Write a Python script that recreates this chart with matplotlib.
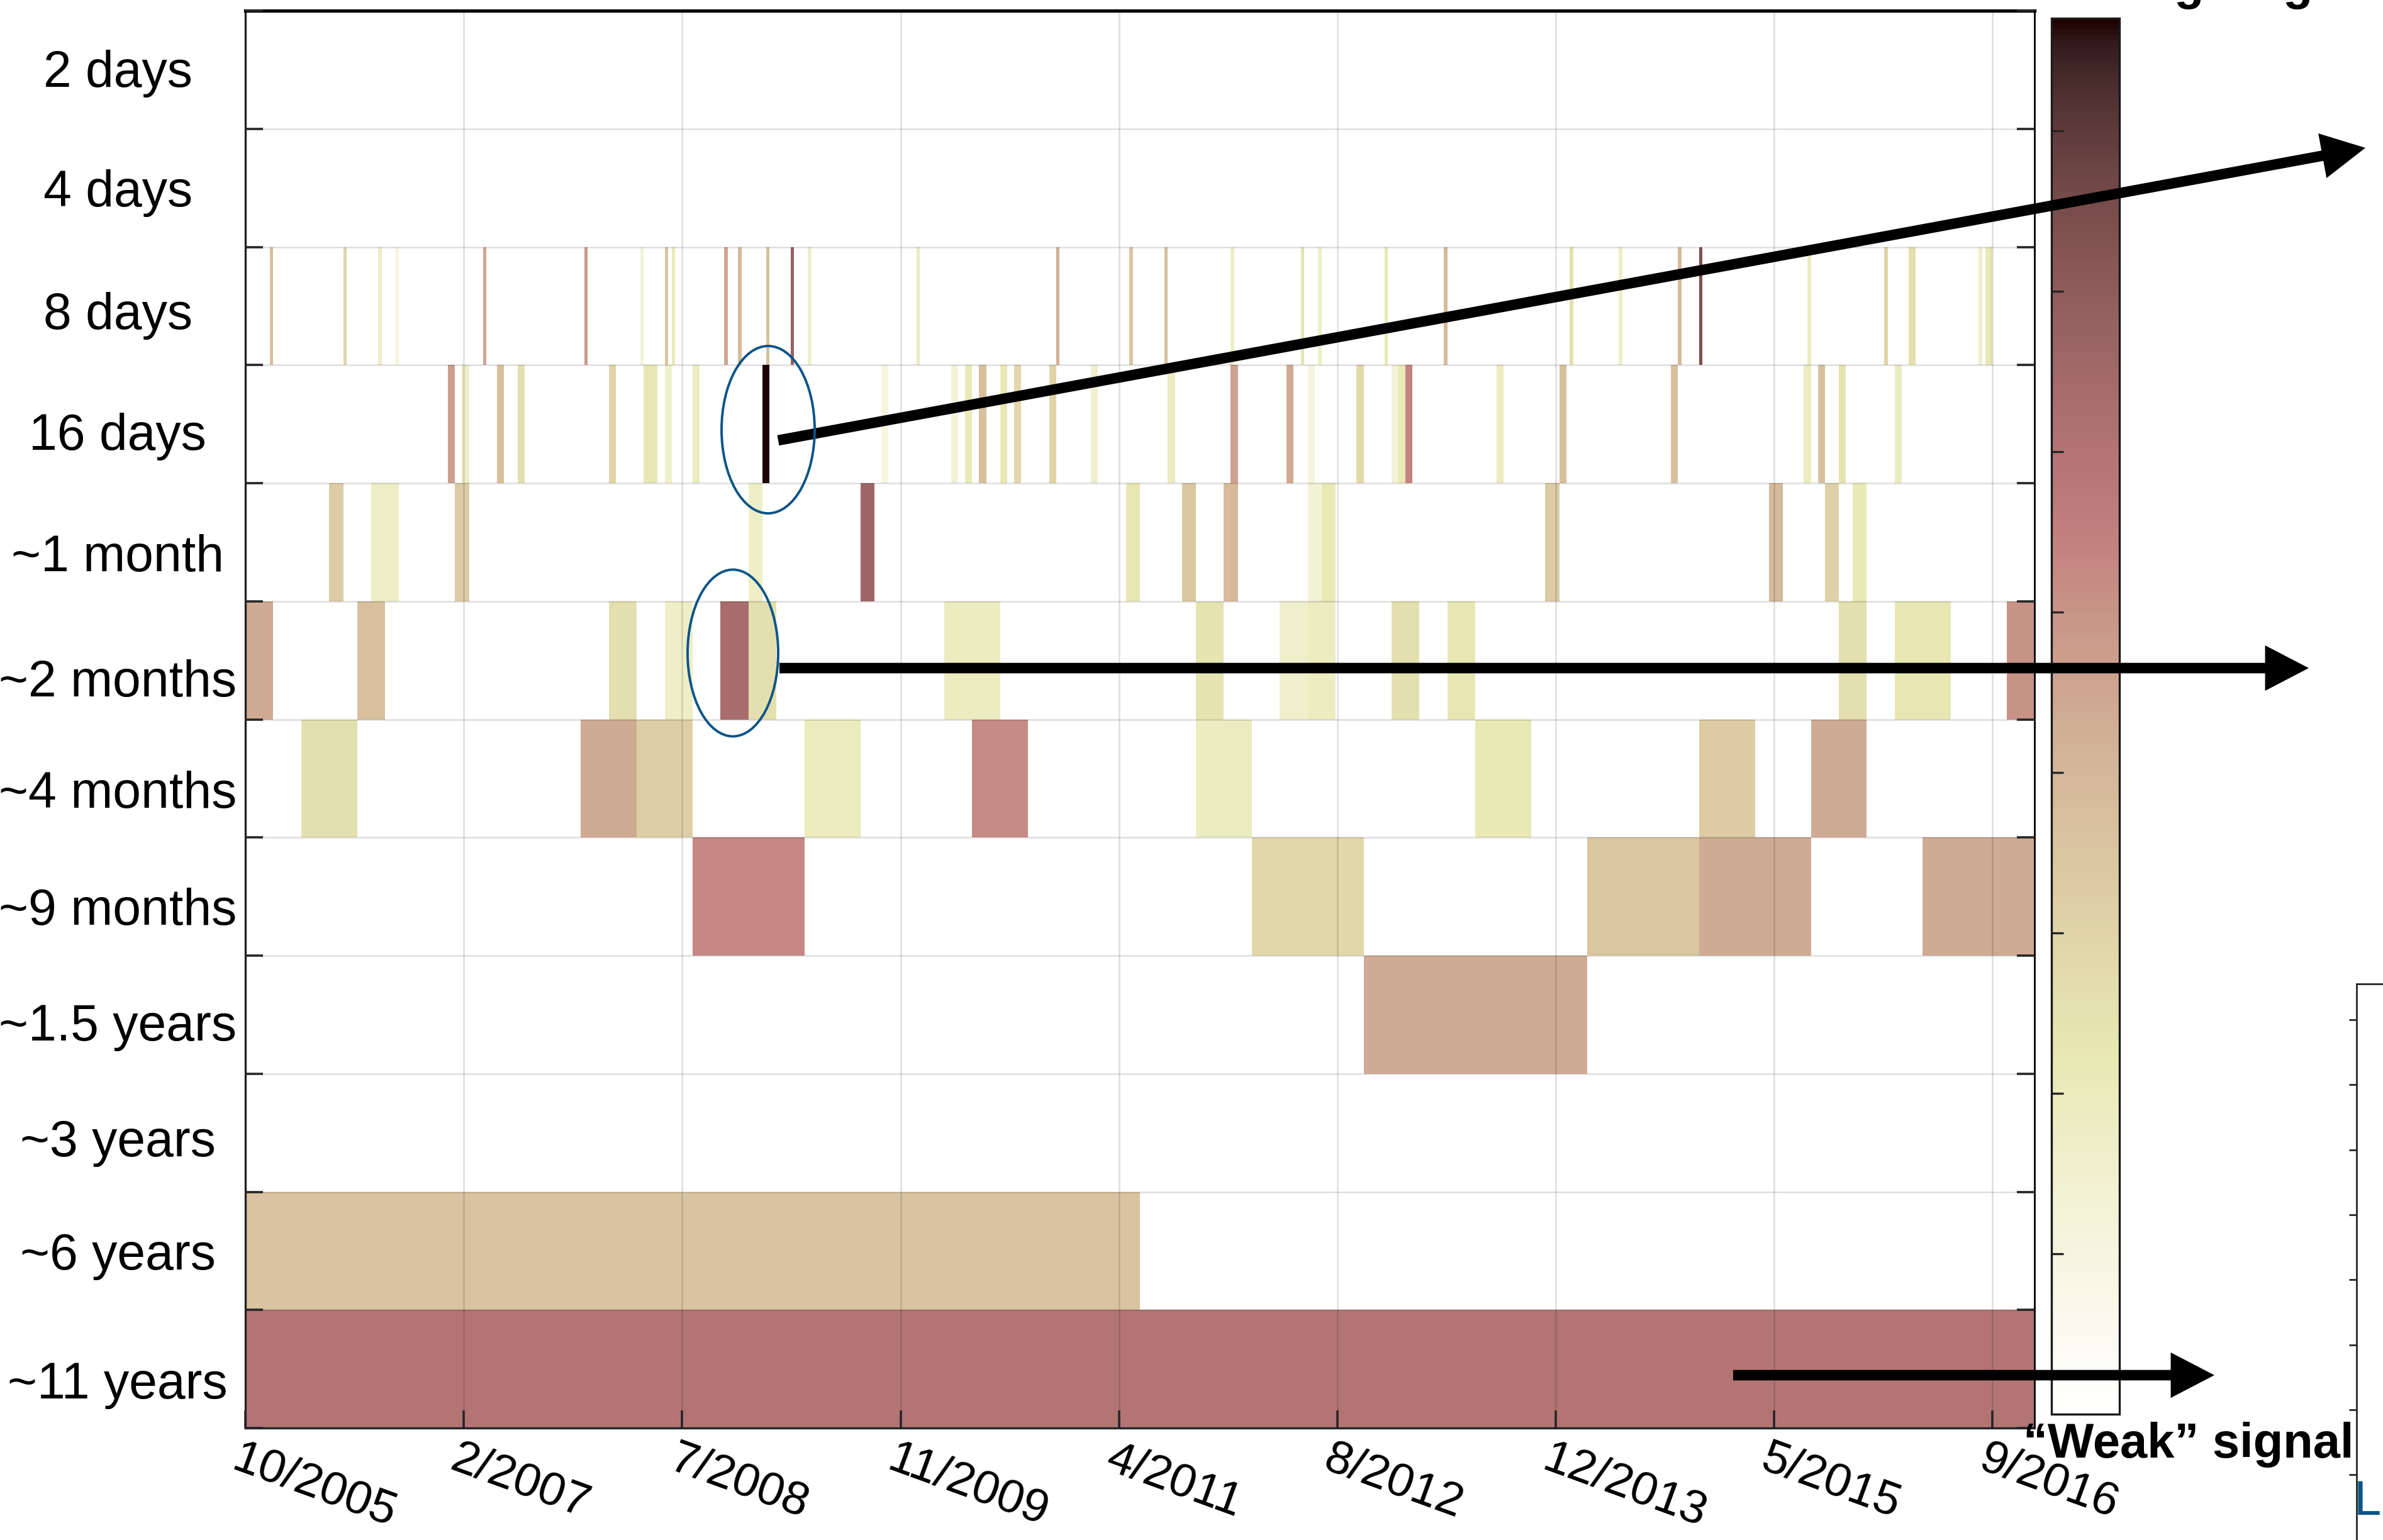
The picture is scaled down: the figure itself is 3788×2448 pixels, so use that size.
import numpy as np
import matplotlib
matplotlib.use("Agg")
import matplotlib.pyplot as plt
from matplotlib.patches import Ellipse, FancyArrowPatch, ArrowStyle
from matplotlib.colors import Normalize
from matplotlib.cm import ScalarMappable
from matplotlib.transforms import ScaledTranslation

plt.rcParams['font.family'] = ['Liberation Sans', 'DejaVu Sans']

W, H, DPI = 3788, 2448, 200

# ---------------- data ----------------
scale_labels = ["2 days", "4 days", "8 days", "16 days", "~1 month", "~2 months",
                "~4 months", "~9 months", "~1.5 years", "~3 years", "~6 years", "~11 years"]
# small vertical nudges of the scale labels inside their rows (row units)
label_nudge = [-0.01, 0.0, 0.04, 0.06, 0.09, 0.15, 0.09, 0.08, 0.06, 0.04, 0.0, 0.09]
block_days = [2, 4, 8, 16, 32, 64, 128, 256, 512, 1024, 2048, 4096]
n_days = 4096

tick_days = [0, 500, 1000, 1500, 2000, 2500, 3000, 3500, 4000]
tick_labels = ["10/2005", "2/2007", "7/2008", "11/2009", "4/2011",
               "8/2012", "12/2013", "5/2015", "9/2016"]

# block index (within each scale) and strength of significant coefficients
d2_idx, d2_val = [], []
d4_idx, d4_val = [], []
d8_idx = [7, 28, 38, 43, 68, 97, 113, 120, 122, 137, 141, 149, 156, 161, 192, 232, 253,
          263, 282, 302, 307, 326, 343, 379, 393, 410, 416, 447, 469, 476, 477, 496, 498, 499]
d8_val = [3.7, 2.9, 1.7, 1.1, 4.5, 4.8, 1.3, 3.5, 2.2, 4.5, 3.9, 3.7, 6.8, 1.6, 1.9, 4.2, 3.5,
          3.7, 1.7, 2.4, 1.7, 2.2, 3.9, 2.6, 1.7, 3.9, 7.4, 1.9, 3.0, 2.6, 2.6, 1.6, 2.2, 2.4]
d16_idx = [29, 31, 36, 39, 52, 57, 58, 60, 64, 74, 91, 101, 103, 105, 108, 110, 115, 121,
           132, 141, 149, 152, 159, 164, 165, 166, 179, 188, 204, 223, 225, 228, 236]
d16_val = [4.7, 1.7, 3.7, 2.6, 3.0, 2.3, 2.3, 1.6, 1.9, 8.7, 1.0, 1.3, 2.2, 3.7, 2.2, 2.9, 3.0, 1.5,
           1.9, 4.6, 4.35, 1.0, 2.8, 1.3, 2.2, 5.4, 1.9, 3.7, 3.7, 1.9, 3.7, 2.4, 1.9]
m1_idx = [6, 9, 10, 15, 36, 44, 63, 67, 70, 76, 77, 93, 109, 113, 115]
m1_val = [3.3, 1.7, 1.7, 3.3, 1.7, 6.6, 2.3, 3.5, 3.9, 1.3, 2.2, 3.3, 3.9, 3.1, 2.2]
m2_idx = [0, 4, 13, 15, 17, 18, 25, 26, 34, 37, 38, 41, 43, 57, 59, 60, 63]
m2_val = [4.35, 3.7, 2.6, 1.7, 6.3, 2.6, 1.9, 1.9, 2.4, 1.6, 1.9, 2.6, 2.3, 2.6, 2.3, 2.3, 5.0]
m4_idx = [1, 6, 7, 10, 13, 17, 22, 26, 28]
m4_val = [2.6, 4.35, 3.2, 2.0, 5.2, 1.9, 2.2, 3.3, 4.35]
m9_idx = [4, 9, 12, 13, 15]
m9_val = [5.3, 2.9, 3.5, 4.35, 4.35]
y15_idx, y15_val = [5], [4.35]
y3_idx, y3_val = [], []
y6_idx, y6_val = [0], [3.6]
y11_idx, y11_val = [0], [6.0]

rows = [(d2_idx, d2_val), (d4_idx, d4_val), (d8_idx, d8_val), (d16_idx, d16_val),
        (m1_idx, m1_val), (m2_idx, m2_val), (m4_idx, m4_val), (m9_idx, m9_val),
        (y15_idx, y15_val), (y3_idx, y3_val), (y6_idx, y6_val), (y11_idx, y11_val)]

cbar_max = 8.7
cbar_ticks = [1, 2, 3, 4, 5, 6, 7, 8]

# ---------------- figure ----------------
fig = plt.figure(figsize=(W / DPI, H / DPI), dpi=DPI)
fig.patch.set_facecolor('white')

ax = fig.add_axes([390 / W, 1 - 2270 / H, 2844 / W, 2253 / H])
cmap = plt.get_cmap('pink_r')
norm = Normalize(0, cbar_max)

for r, (idx, vals) in enumerate(rows):
    L = block_days[r]
    if len(idx):
        idx = np.asarray(idx)
        ax.bar(idx * L, np.ones(len(idx)), width=L, bottom=r, align='edge',
               color=cmap(norm(np.asarray(vals))), linewidth=0, zorder=1)

ax.set_xlim(0, n_days)
ax.set_ylim(len(scale_labels), 0)

ax.set_yticks(np.arange(len(scale_labels) + 1))
ax.set_yticklabels([])
ax.set_yticks(np.arange(len(scale_labels)) + 0.5 + np.asarray(label_nudge), minor=True)
ax.set_yticklabels(scale_labels, minor=True, fontsize=29)
for lab in ax.get_yticklabels(minor=True):
    lab.set_ha('center')

ax.set_xticks(tick_days)
ax.set_xticklabels(tick_labels, fontsize=27)

ax.grid(True, which='major', color='k', alpha=0.13, linewidth=0.9)
ax.set_axisbelow(False)

ax.tick_params(axis='both', which='major', direction='in', length=10, width=1.3,
               color='#262626', right=True, top=False)
ax.tick_params(axis='y', which='minor', length=0, pad=73, left=False, right=False)
ax.tick_params(axis='x', pad=5.0)

off = ScaledTranslation(-6 / DPI, 0, fig.dpi_scale_trans)
for lab in ax.get_xticklabels():
    lab.set_rotation(-20)
    lab.set_ha('left')
    lab.set_va('top')
    lab.set_rotation_mode('anchor')
    lab.set_transform(lab.get_transform() + off)

for s in ['left', 'bottom']:
    ax.spines[s].set_color('#262626')
    ax.spines[s].set_linewidth(1.2)
ax.spines['right'].set_color('black')
ax.spines['right'].set_linewidth(1.0)
ax.spines['top'].set_color('black')
ax.spines['top'].set_linewidth(1.9)

# ---------------- colorbar ----------------
cax = fig.add_axes([3261 / W, 1 - 2248 / H, 108 / W, (2248 - 29) / H])
sm = ScalarMappable(norm=norm, cmap=cmap)
cb = fig.colorbar(sm, cax=cax)
cb.set_ticks(cbar_ticks)
cax.yaxis.set_ticks_position('left')
cax.tick_params(direction='in', length=7, width=1.2, color='#262626',
                labelleft=False, labelright=False, left=True, right=False)
cb.outline.set_linewidth(1.2)
cb.outline.set_edgecolor('#1a1a1a')

fig.text(3216 / W, 1 - 2317 / H, "\u201cWeak\u201d signal", fontsize=28, fontweight='bold',
         ha='left', va='baseline')
# label above the colour bar, cut off by the top edge as in the reference
fig.text(3214 / W, 1 + 1 / H, "\u201cStrong\u201d signal", fontsize=28, fontweight='bold',
         ha='left', va='baseline')

# ---------------- cropped neighbouring panel ----------------
ax2 = fig.add_axes([3746 / W, -0.3, 0.2, 0.3 + (1 - 1564 / H)])
ax2.set_xlim(0, 1)
ax2.set_ylim(15.115, -0.552)
ax2.set_xticks([])
ax2.set_yticks(range(8))
ax2.set_yticklabels([])
ax2.tick_params(axis='y', direction='out', length=4.5, width=1.0, color='#262626')
for s in ['left', 'top']:
    ax2.spines[s].set_linewidth(1.0)
    ax2.spines[s].set_color('#262626')
fig.text(3742 / W, 1 - 2408 / H, "L", fontsize=28, color='#0b5487', ha='left', va='baseline')

# ---------------- annotations ----------------
def fig_xy(px, py):
    return (px / W, 1 - py / H)

arrow_style = ArrowStyle.Simple(head_length=25, head_width=26, tail_width=6)
for (x1, y1, x2, y2) in [(1237, 700, 3760, 235), (1239, 1062, 3670, 1062), (2755, 2186, 3520, 2186)]:
    arr = FancyArrowPatch(fig_xy(x1, y1), fig_xy(x2, y2), transform=fig.transFigure,
                          arrowstyle=arrow_style, mutation_scale=1, color='black',
                          shrinkA=0, shrinkB=0, linewidth=0, zorder=5)
    fig.add_artist(arr)

for (cx, cy, ew, eh) in [(1221, 683, 148, 266), (1165, 1038, 144, 265)]:
    e = Ellipse(fig_xy(cx, cy), ew / W, eh / H, transform=fig.transFigure,
                facecolor='none', edgecolor='#0b5487', linewidth=1.4, zorder=6)
    fig.add_artist(e)

fig.savefig("out.png", dpi=DPI, facecolor='white')
